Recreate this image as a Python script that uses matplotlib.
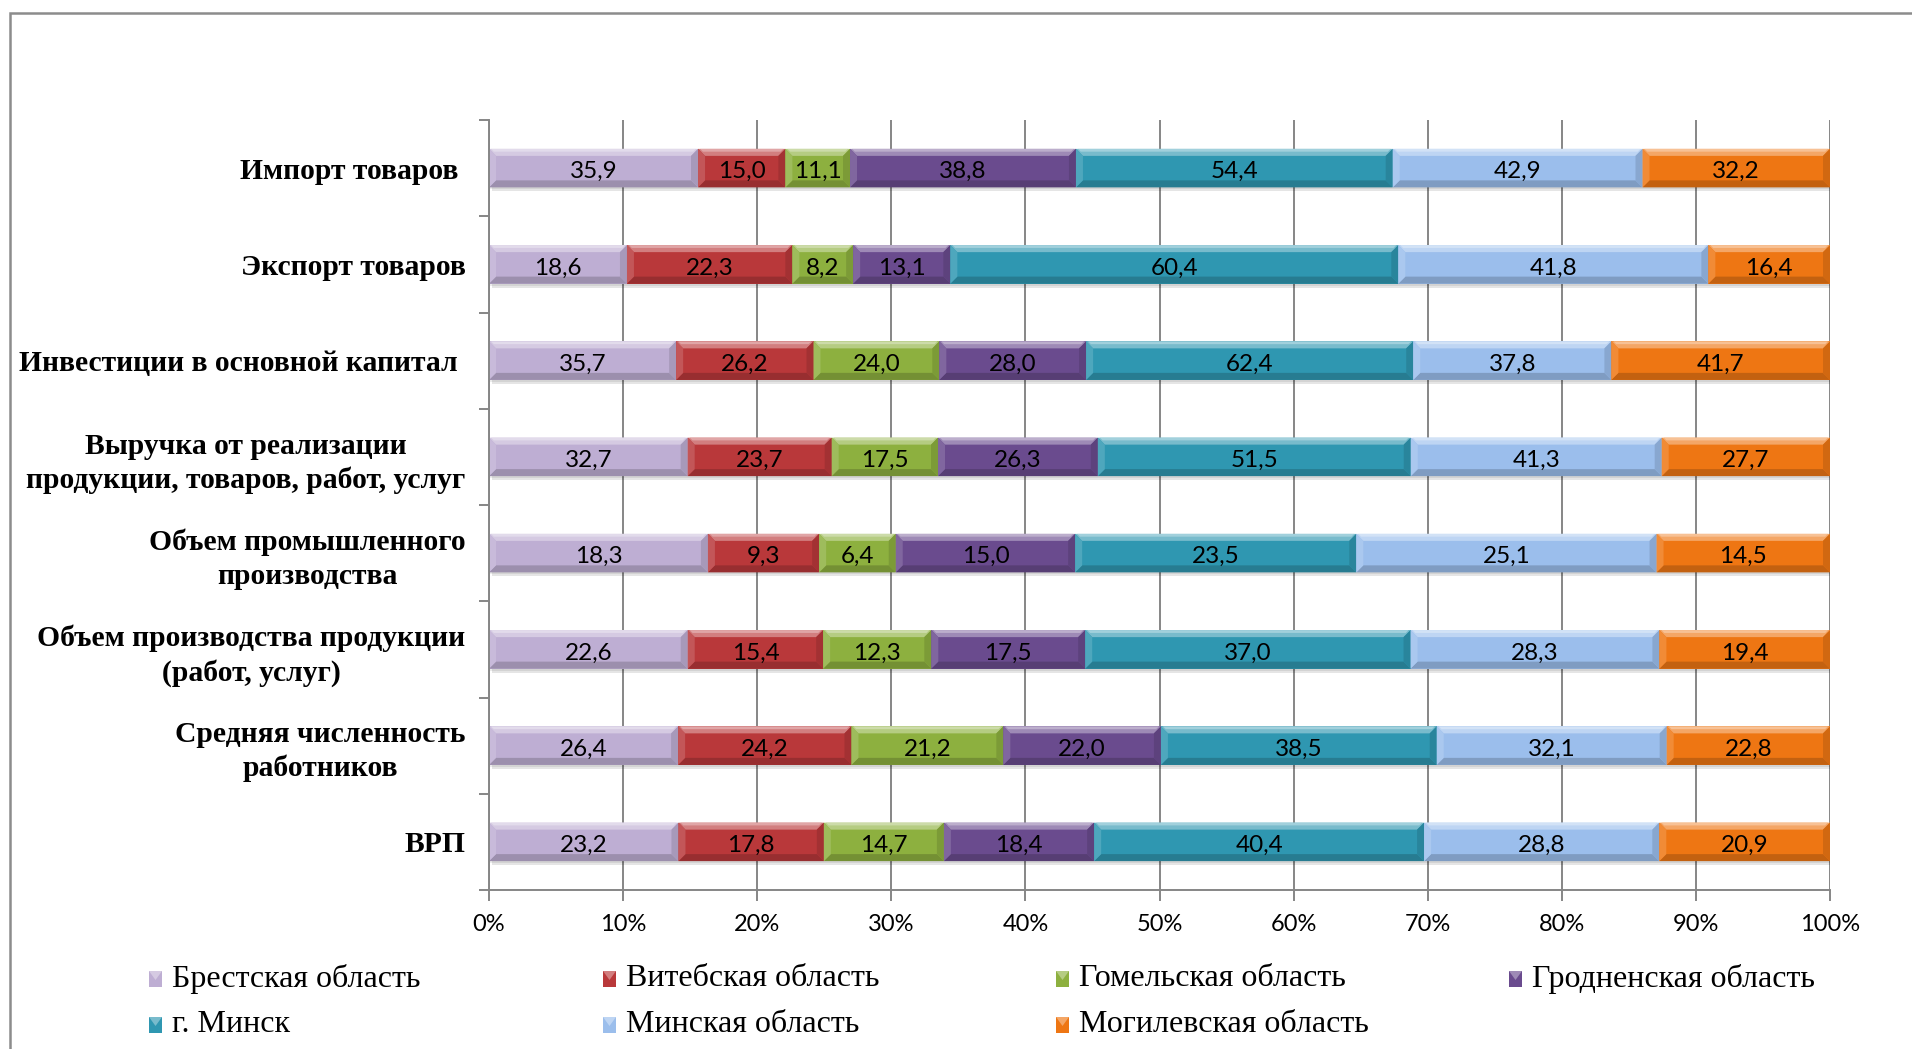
import matplotlib
matplotlib.use("Agg")
import matplotlib.pyplot as plt
from matplotlib.patches import Polygon, Rectangle
import matplotlib.colors as mcolors
import numpy as np

categories = [
    "Импорт товаров ",
    "Экспорт товаров",
    "Инвестиции в основной капитал ",
    "Выручка от реализации\nпродукции, товаров, работ, услуг",
    "Объем промышленного\nпроизводства",
    "Объем производства продукции\n(работ, услуг)",
    "Средняя численность\nработников",
    "ВРП",
]
series_names = ["Брестская область", "Витебская область", "Гомельская область",
                "Гродненская область", "г. Минск", "Минская область", "Могилевская область"]
brest = [35.9, 18.6, 35.7, 32.7, 18.3, 22.6, 26.4, 23.2]
vitebsk = [15.0, 22.3, 26.2, 23.7, 9.3, 15.4, 24.2, 17.8]
gomel = [11.1, 8.2, 24.0, 17.5, 6.4, 12.3, 21.2, 14.7]
grodno = [38.8, 13.1, 28.0, 26.3, 15.0, 17.5, 22.0, 18.4]
minsk_city = [54.4, 60.4, 62.4, 51.5, 23.5, 37.0, 38.5, 40.4]
minsk_reg = [42.9, 41.8, 37.8, 41.3, 25.1, 28.3, 32.1, 28.8]
mogilev = [32.2, 16.4, 41.7, 27.7, 14.5, 19.4, 22.8, 20.9]
x_ticks = [0, 10, 20, 30, 40, 50, 60, 70, 80, 90, 100]
x_ticklabels = ["0%", "10%", "20%", "30%", "40%", "50%", "60%", "70%", "80%", "90%", "100%"]

series = [brest, vitebsk, gomel, grodno, minsk_city, minsk_reg, mogilev]
colors = ["#BEAED3", "#B9383A", "#8DB03F", "#6A4B8E", "#2F97B1", "#9BBEEC", "#EE7613"]

W, H = 1912, 1049
fig = plt.figure(figsize=(W / 100, H / 100), dpi=100)
ax_l, ax_r, ax_t, ax_b = 489, 1830, 120, 890
ax = fig.add_axes([ax_l / W, 1 - ax_b / H, (ax_r - ax_l) / W, (ax_b - ax_t) / H])

n = len(categories)
ypos = np.arange(n)[::-1]  # first category at top
bar_h = 0.40
vals = np.array(series, dtype=float)
totals = vals.sum(axis=0)
shares = vals / totals * 100

ax.set_xlim(0, 100)
ax.set_ylim(-0.5, n - 0.5)

px_x = 100 / (ax_r - ax_l)
px_y = n / (ax_b - ax_t)
bev = 7
dx, dy = bev * px_x, bev * px_y


def shade(c, f):
    r = np.array(mcolors.to_rgb(c))
    if f >= 0:
        r = r + (1 - r) * f
    else:
        r = r * (1 + f)
    return tuple(np.clip(r, 0, 1))


# shadows
for y in ypos:
    ax.add_patch(Rectangle((0.25, y - bar_h / 2 - 4 * px_y), 100, bar_h,
                           facecolor="#000000", alpha=0.10, edgecolor="none", zorder=1.5))
    ax.add_patch(Rectangle((0.1, y - bar_h / 2 - 2 * px_y), 100, bar_h,
                           facecolor="#000000", alpha=0.08, edgecolor="none", zorder=1.5))

left = np.zeros(n)
for k, (name, s) in enumerate(zip(series_names, shares)):
    bars = ax.barh(ypos, s, left=left, height=bar_h, color=colors[k],
                   edgecolor="none", zorder=2, label=name)
    for i, b in enumerate(bars):
        x0, y0 = b.get_x(), b.get_y()
        x1, y1 = x0 + b.get_width(), y0 + b.get_height()
        c = colors[k]
        polys = [
            ([(x0, y1), (x1, y1), (x1 - dx, y1 - dy), (x0 + dx, y1 - dy)], shade(c, 0.35)),
            ([(x0, y0), (x1, y0), (x1 - dx, y0 + dy), (x0 + dx, y0 + dy)], shade(c, -0.18)),
            ([(x0, y0), (x0, y1), (x0 + dx, y1 - dy), (x0 + dx, y0 + dy)], shade(c, 0.15)),
            ([(x1, y0), (x1, y1), (x1 - dx, y1 - dy), (x1 - dx, y0 + dy)], shade(c, -0.12)),
        ]
        for pts, col in polys:
            ax.add_patch(Polygon(pts, closed=True, facecolor=col, edgecolor="none", zorder=2.2))
        ax.add_patch(Polygon([(x0 + 0.15, y1), (x1 - 0.15, y1), (x1 - 0.15 - dx * 0.4, y1 - dy * 0.4),
                              (x0 + 0.15 + dx * 0.4, y1 - dy * 0.4)], closed=True,
                             facecolor=shade(c, 0.55), edgecolor="none", zorder=2.3))
        ax.text(x0 + b.get_width() / 2, b.get_y() + b.get_height() / 2 - 3.5 * px_y,
                f"{series[k][i]:.1f}".replace(".", ","), ha="center", va="center",
                fontsize=17.5, family="Lato", color="black", zorder=3)
    left += s

# axes styling
grid_c = "#868686"
ax.set_xticks(x_ticks)
ax.set_xticklabels(x_ticklabels, fontsize=17, family="Lato")
ax.xaxis.grid(True, color=grid_c, linewidth=1.4)
ax.set_axisbelow(True)
ax.tick_params(axis="x", length=8, width=1.4, color=grid_c, pad=9)
ax.set_yticks(ypos)
ax.set_yticklabels(categories, fontsize=21.3, family="Liberation Serif", fontweight="bold",
                   multialignment="center", linespacing=1.3)
ax.tick_params(axis="y", which="major", length=0, pad=17)
ax.set_yticks(np.arange(-0.5, n, 1.0), minor=True)
ax.tick_params(axis="y", which="minor", length=7, width=1.4, color=grid_c)
for sp in ["top", "right"]:
    ax.spines[sp].set_visible(False)
for sp in ["left", "bottom"]:
    ax.spines[sp].set_color(grid_c)
    ax.spines[sp].set_linewidth(1.4)

# outer chart border
fig.patches.append(Rectangle((10 / W, -0.05), 1.1, 1 - 13 / H + 0.05, transform=fig.transFigure,
                             facecolor="none", edgecolor="#8C8C8C", linewidth=1.8))

# legend (row-wise, four columns)
mk_x = [149, 603, 1056, 1509]
txt_off = 23
rows_y = [979, 1025]
mw, mh = 13, 16
for k, name in enumerate(series_names):
    r, cidx = divmod(k, 4)
    mx = mk_x[cidx]
    my = rows_y[r]
    c = colors[k]
    fig.patches.append(Rectangle((mx / W, 1 - (my + mh / 2) / H), mw / W, mh / H,
                                 transform=fig.transFigure, facecolor=c, edgecolor="none"))
    fig.patches.append(Polygon([(mx / W, 1 - (my - mh / 2) / H), ((mx + mw) / W, 1 - (my - mh / 2) / H),
                                ((mx + mw / 2) / W, 1 - (my + 1) / H)], closed=True,
                               transform=fig.transFigure, facecolor=shade(c, 0.35), edgecolor="none"))
    fig.text((mx + txt_off) / W, 1 - my / H, name, ha="left", va="center",
             fontsize=23, family="Liberation Serif", color="black")

fig.savefig("out.png", dpi=100)
